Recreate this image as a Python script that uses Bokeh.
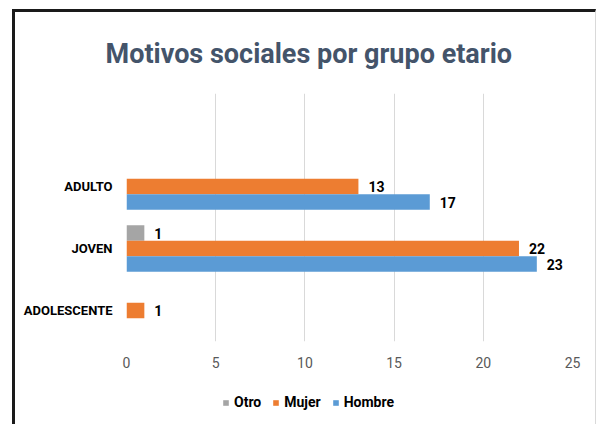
from bokeh.plotting import figure
from bokeh.layouts import column
from bokeh.core.properties import value
from bokeh.models import (ColumnDataSource, Range1d, FixedTicker, Legend, LegendItem,
                          LabelSet)
from bokeh.transform import dodge
from bokeh.embed import file_html
from bokeh.resources import INLINE

# ---- data ----
categories = ["ADOLESCENTE", "JOVEN", "ADULTO"]
series_names = ["Otro", "Mujer", "Hombre"]
otro = [0, 1, 0]
mujer = [1, 22, 13]
hombre = [0, 23, 17]
x_ticks = [0, 5, 10, 15, 20, 25]
title_text = "Motivos sociales por grupo etario"

colors = {"Otro": "#A5A5A5", "Mujer": "#ED7D31", "Hombre": "#5B9BD5"}
offsets = {"Otro": 0.25, "Mujer": 0.0, "Hombre": -0.25}
values = {"Otro": otro, "Mujer": mujer, "Hombre": hombre}

FONT = "Roboto"

ypos = list(range(len(categories)))

p = figure(width=580, height=375, output_backend="svg", toolbar_location=None,
           x_range=Range1d(x_ticks[0], x_ticks[-1]),
           y_range=Range1d(-0.5, len(categories) + 0.5),
           min_border_left=111, min_border_right=23, min_border_top=81,
           min_border_bottom=46)

p.title.text = title_text
p.title.text_font = FONT
p.title.text_font_size = "27px"
p.title.text_font_style = "bold"
p.title.text_color = "#44546A"
p.title.align = "left"
p.title.vertical_align = "top"
p.title.offset = -21
p.title.standoff = 44

p.outline_line_color = None
p.background_fill_color = "white"
p.border_fill_color = "white"

# axes
p.xaxis.ticker = FixedTicker(ticks=x_ticks)
p.xaxis.axis_line_color = None
p.xaxis.major_tick_line_color = None
p.xaxis.minor_tick_line_color = None
p.xaxis.major_label_text_font = FONT
p.xaxis.major_label_text_font_size = "14px"
p.xaxis.major_label_text_color = "#595959"
p.xaxis.major_label_standoff = 9

p.yaxis.ticker = FixedTicker(ticks=ypos)
p.yaxis.major_label_overrides = {i: c for i, c in zip(ypos, categories)}
p.yaxis.axis_line_color = None
p.yaxis.major_tick_line_color = None
p.yaxis.minor_tick_line_color = None
p.yaxis.major_label_text_font = FONT
p.yaxis.major_label_text_font_size = "13px"
p.yaxis.major_label_text_font_style = "bold"
p.yaxis.major_label_text_color = "#000000"
p.yaxis.major_label_standoff = 8

p.xgrid.grid_line_color = "#D9D9D9"
p.xgrid.ticker = FixedTicker(ticks=x_ticks)
p.ygrid.grid_line_color = None

# legend figure (below the chart)
q = figure(width=580, height=37, output_backend="svg", toolbar_location=None,
           x_range=Range1d(0, 1), y_range=Range1d(0, 1),
           min_border_left=0, min_border_right=0, min_border_top=0,
           min_border_bottom=0)
q.axis.visible = False
q.grid.visible = False
q.outline_line_color = None
q.border_fill_color = "white"

items = []
for name in series_names:
    vals = values[name]
    src = ColumnDataSource(dict(y=ypos, v=vals))
    p.hbar(y=dodge("y", offsets[name], range=p.y_range), right="v", left=0,
           height=0.25, source=src, fill_color=colors[name], line_color=None)
    nz = [(y, v) for y, v in zip(ypos, vals) if v]
    lsrc = ColumnDataSource(dict(y=[a + offsets[name] for a, _ in nz],
                                 v=[b for _, b in nz],
                                 t=[str(b) for _, b in nz]))
    p.add_layout(LabelSet(x="v", y="y", text="t", source=lsrc, x_offset=10,
                          text_baseline="middle", text_font=value(FONT),
                          text_font_size=value("14px"), text_font_style="bold",
                          text_color="#000000"))
    # zero-width proxy bar so the legend (in its own strip) can show the swatch
    proxy = q.hbar(y=[0], left=[0], right=[0], height=0.5,
                   fill_color=colors[name], line_color=None)
    items.append(LegendItem(label=name, renderers=[proxy]))

legend = Legend(items=items, orientation="horizontal", location=(96, 14),
                glyph_width=7, glyph_height=7, label_standoff=5, spacing=11,
                padding=0, margin=0, border_line_color=None,
                background_fill_alpha=0, label_text_font=FONT,
                label_text_font_size="14px", label_text_font_style="bold",
                label_text_color="#000000")
q.add_layout(legend, "center")

layout = column(p, q, spacing=0,
                styles={"border-left": "3px solid #1a1a1a",
                        "border-top": "3px solid #1a1a1a",
                        "border-right": "1px solid #D9D9D9",
                        "margin-left": "12px", "margin-top": "9px"})

open("out.html", "w").write(file_html(layout, INLINE))
